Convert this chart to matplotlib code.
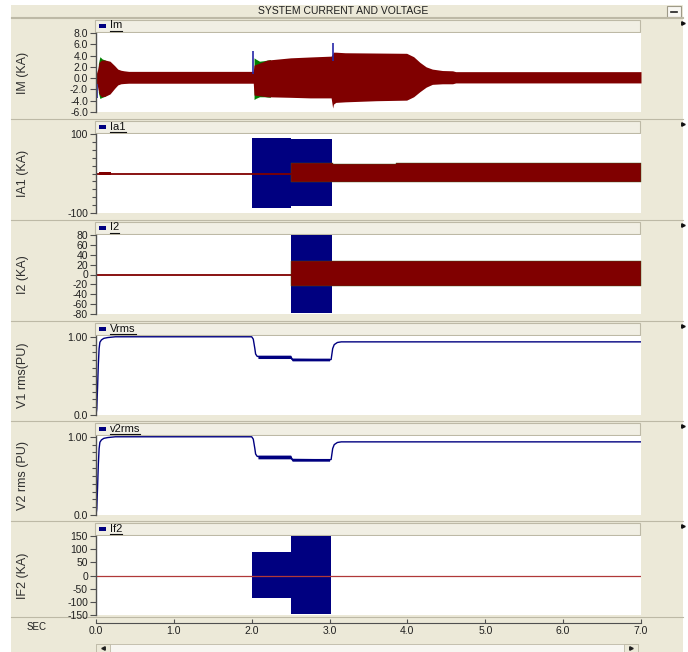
import matplotlib

matplotlib.use("Agg")
import matplotlib.pyplot as plt
import numpy as np
from matplotlib.patches import Rectangle

W, H = 688, 652

RED = "#800000"
BLUE = "#000080"
GREEN = "#008000"
BEIGE = "#ECE9D8"
HEAD = "#F1EFE4"
EDGE = "#BDB9A6"

# ---- Im (kA): envelope of the oscillating trace ----
im_t = [0.00, 0.02, 0.04, 0.07, 0.12, 0.18, 0.24, 0.28, 0.32, 0.36, 0.42,
        2.02, 2.03, 2.20, 2.50, 2.75, 3.02, 3.04, 3.05, 3.08, 3.20, 3.60, 3.99,
        4.08, 4.16, 4.24, 4.32, 4.45, 4.58, 4.62, 7.00]
im_hi = [0.6, 1.5, 2.8, 3.2, 3.2, 3.0, 2.2, 1.6, 1.4, 1.3, 1.2,
         1.2, 2.3, 3.2, 3.6, 3.75, 3.9, 4.3, 4.6, 4.6, 4.5, 4.45, 4.4,
         3.8, 2.8, 2.0, 1.6, 1.35, 1.3, 1.15, 1.15]
im_lo = [-0.6, -1.5, -2.8, -3.3, -3.2, -2.8, -1.8, -1.2, -1.0, -0.95, -0.9,
         -0.9, -3.0, -3.3, -3.4, -3.5, -3.5, -5.3, -4.6, -4.3, -4.2, -4.0, -3.9,
         -3.3, -2.4, -1.6, -1.1, -1.0, -1.0, -0.85, -0.85]
im_g1_t = [0.03, 0.05, 0.08, 0.12]
im_g1_hi = [2.5, 3.8, 3.4, 3.2]
im_g1_lo = [-2.5, -3.6, -3.4, -3.2]
im_g2_t = [2.03, 2.05, 2.10, 2.16, 2.24]
im_g2_hi = [3.6, 3.4, 3.0, 3.1, 3.3]
im_g2_lo = [-3.8, -3.6, -3.3, -3.3, -3.4]
im_spk_t = [0.01, 2.02, 3.04]
im_spk_hi = [-1.0, 4.8, 6.2]
im_spk_lo = [-3.5, 0.8, 3.0]

# ---- Ia1 (kA) ----
ia1_line_t = [0.0, 2.5]
ia1_line_v = [0.0, 0.0]
ia1_st_t = [0.04, 0.19]
ia1_st_hi = [3.0, 3.0]
ia1_st_lo = [-3.0, -3.0]
ia1_b_t = [2.0, 2.5, 2.5, 3.03]
ia1_b_hi = [90, 90, 87, 87]
ia1_b_lo = [-88, -88, -82, -82]
ia1_r_t = [2.5, 3.05, 3.05, 3.85, 3.85, 7.0]
ia1_r_hi = [26, 26, 25, 25, 26, 26]
ia1_r_lo = [-22, -22, -22, -22, -22, -22]

# ---- I2 (kA) ----
i2_line_t = [0.0, 2.5]
i2_line_v = [0.0, 0.0]
i2_b_t = [2.5, 3.03]
i2_b_hi = [80, 80]
i2_b_lo = [-77, -77]
i2_r_t = [2.5, 7.0]
i2_r_hi = [28, 28]
i2_r_lo = [-24, -24]

# ---- V1 rms / V2 rms (pu) ----
v1_t = [0.0, 0.01, 0.02, 0.03, 0.04, 0.05, 0.07, 0.10, 0.15, 0.25, 2.0, 2.02,
        2.03, 2.04, 2.05, 2.07, 2.10, 2.5, 2.52, 3.0, 3.02, 3.04, 3.06, 3.10,
        3.15, 7.0]
v1_v = [0.0, 0.08, 0.35, 0.65, 0.85, 0.93, 0.96, 0.98, 0.99, 1.0, 1.0, 0.97,
        0.91, 0.85, 0.78, 0.75, 0.745, 0.745, 0.71, 0.705, 0.71, 0.85, 0.90,
        0.927, 0.935, 0.935]
v1_band_t = [2.08, 2.5, 2.52, 3.0]
v1_band_hi = [0.765, 0.765, 0.727, 0.727]
v1_band_lo = [0.722, 0.722, 0.692, 0.692]

v2_t = [0.0, 0.01, 0.02, 0.03, 0.04, 0.05, 0.07, 0.10, 0.15, 0.25, 2.0, 2.02,
        2.03, 2.04, 2.05, 2.07, 2.10, 2.5, 2.52, 3.0, 3.02, 3.04, 3.06, 3.10,
        3.15, 7.0]
v2_v = [0.0, 0.08, 0.35, 0.65, 0.85, 0.93, 0.96, 0.98, 0.99, 1.0, 1.0, 0.97,
        0.91, 0.85, 0.78, 0.75, 0.745, 0.745, 0.71, 0.705, 0.71, 0.85, 0.90,
        0.927, 0.935, 0.935]
v2_band_t = [2.08, 2.5, 2.52, 3.0]
v2_band_hi = [0.766, 0.766, 0.723, 0.723]
v2_band_lo = [0.718, 0.718, 0.688, 0.688]

# ---- If2 (kA) ----
if2_line_t = [0.0, 7.0]
if2_line_v = [0.0, 0.0]
if2_b_t = [2.0, 2.5, 2.5, 3.02]
if2_b_hi = [90, 90, 150, 150]
if2_b_lo = [-86, -86, -145, -145]

x_ticks = [0.0, 1.0, 2.0, 3.0, 4.0, 5.0, 6.0, 7.0]
x_labels = ["0.0", "1.0", "2.0", "3.0", "4.0", "5.0", "6.0", "7.0"]

plt.rcParams["font.family"] = ["Liberation Sans", "DejaVu Sans"]

fig = plt.figure(figsize=(W / 100, H / 100), dpi=100)
fig.patch.set_facecolor("white")


def rect(x0, y0, x1, y1):
    return [x0 / W, 1 - y1 / H, (x1 - x0) / W, (y1 - y0) / H]


bg = fig.add_axes([0, 0, 1, 1], zorder=0)
bg.set_xlim(0, W)
bg.set_ylim(H, 0)
bg.axis("off")

# window frame
bg.add_patch(Rectangle((11, 5), 672, H - 5, facecolor=BEIGE, edgecolor="none"))
bg.plot([11, 683], [17, 17], color=EDGE, lw=0.8)
bg.text(343, 11.5, "SYSTEM CURRENT AND VOLTAGE", fontsize=7.5, ha="center",
        va="center", color="#202020")
bg.add_patch(Rectangle((667, 6), 14, 11, facecolor="#F8F7F2", edgecolor="#9E9A88", lw=0.8))
bg.plot([671, 677], [12, 12], color="#202020", lw=1.2)

# scroll bar at the bottom
bg.add_patch(Rectangle((96, 644), 542, 8, facecolor="#F7F6F1", edgecolor=EDGE, lw=0.6))
bg.add_patch(Rectangle((96, 644), 14, 8, facecolor=BEIGE, edgecolor=EDGE, lw=0.6))
bg.add_patch(Rectangle((624, 644), 14, 8, facecolor=BEIGE, edgecolor=EDGE, lw=0.6))
bg.plot([103], [648], marker="<", ms=2.5, color="#202020")
bg.plot([631], [648], marker=">", ms=2.5, color="#202020")

TOPS = [33, 134, 235, 336, 436, 536]
HGT = 79


def panel(i, ylim, ticks, labels, minor, ylabel, legend):
    top = TOPS[i]
    # separator and legend header
    bg.plot([11, 683], [top - 15, top - 15], color=EDGE, lw=0.8)
    bg.add_patch(Rectangle((95, top - 13), 545, 12, facecolor=HEAD,
                           edgecolor=EDGE, lw=0.8))
    bg.add_patch(Rectangle((99, top - 9), 7, 3.5, facecolor=BLUE, edgecolor="none"))
    txt = bg.text(110, top - 7.5, legend, fontsize=8, ha="left", va="center",
                  color="#101010")
    bg.plot([683], [top - 10], marker=">", ms=2.5, color="#101010")
    bg.text(23, top + HGT / 2, ylabel, fontsize=9, rotation=90, ha="center",
            va="center", color="#303030")

    ax = fig.add_axes(rect(96, top, 641, top + HGT), zorder=2)
    ax.set_facecolor("white")
    ax.set_xlim(0, 7)
    ax.set_ylim(*ylim)
    ax.set_xticks([])
    ax.set_yticks(ticks)
    ax.set_yticklabels(labels)
    if minor is not None:
        ax.set_yticks(minor, minor=True)
    for s in ["top", "right", "bottom"]:
        ax.spines[s].set_visible(False)
    ax.spines["left"].set_color("#505050")
    ax.spines["left"].set_linewidth(1.0)
    ax.tick_params(axis="y", which="major", direction="out", length=4.3,
                   width=0.8, color="#505050", labelsize=7.5, pad=1.5,
                   labelcolor="#202020")
    ax.tick_params(axis="y", which="minor", direction="out", length=2.8,
                   width=0.8, color="#505050")
    return ax, txt


legend_texts = []

ax1, t = panel(0, (-6, 8), [8, 6, 4, 2, 0, -2, -4, -6],
               ["8.0", "6.0", "4.0", "2.0", "0.0", "-2.0", "-4.0", "-6.0"],
               None, "IM (KA)", "Im")
legend_texts.append(t)
ax1.vlines(im_spk_t, im_spk_lo, im_spk_hi, color="#2828a8", lw=1.2)
ax1.fill_between(im_g1_t, im_g1_lo, im_g1_hi, color=GREEN, lw=0)
ax1.fill_between(im_g2_t, im_g2_lo, im_g2_hi, color=GREEN, lw=0)
ax1.fill_between(im_t, im_lo, im_hi, color=RED, lw=0)

ax2, t = panel(1, (-100, 100), [100, -100], ["100", "-100"],
               np.arange(-80, 81, 20), "IA1 (KA)", "Ia1")
legend_texts.append(t)
ax2.fill_between(ia1_b_t, ia1_b_lo, ia1_b_hi, color=BLUE, lw=0)
ax2.plot(ia1_line_t, ia1_line_v, color=RED, lw=1.3)
ax2.fill_between(ia1_st_t, ia1_st_lo, ia1_st_hi, color=RED, lw=0)
ax2.fill_between(ia1_r_t, ia1_r_lo, ia1_r_hi, facecolor=RED, edgecolor="#3a5a20", lw=0.3)

ax3, t = panel(2, (-80, 80), list(range(80, -81, -20)),
               [str(v) for v in range(80, -81, -20)], None, "I2 (KA)", "I2")
legend_texts.append(t)
ax3.fill_between(i2_b_t, i2_b_lo, i2_b_hi, color=BLUE, lw=0)
ax3.plot(i2_line_t, i2_line_v, color=RED, lw=1.3)
ax3.fill_between(i2_r_t, i2_r_lo, i2_r_hi, facecolor=RED, edgecolor="#3a5a20", lw=0.3)

ax4, t = panel(3, (0, 1.01), [1.0, 0.0], ["1.00", "0.0"],
               np.arange(0.1, 0.95, 0.1), "V1 rms(PU)", "Vrms")
legend_texts.append(t)
ax4.plot(v1_t, v1_v, color=BLUE, lw=1.0)
ax4.fill_between(v1_band_t, v1_band_lo, v1_band_hi, color=BLUE, lw=0)

ax5, t = panel(4, (0, 1.01), [1.0, 0.0], ["1.00", "0.0"],
               np.arange(0.1, 0.95, 0.1), "V2 rms (PU)", "v2rms")
legend_texts.append(t)
ax5.plot(v2_t, v2_v, color=BLUE, lw=1.0)
ax5.fill_between(v2_band_t, v2_band_lo, v2_band_hi, color=BLUE, lw=0)

ax6, t = panel(5, (-150, 150), list(range(150, -151, -50)),
               [str(v) for v in range(150, -151, -50)], None, "IF2 (KA)", "If2")
legend_texts.append(t)
ax6.fill_between(if2_b_t, if2_b_lo, if2_b_hi, color=BLUE, lw=0)
ax6.plot(if2_line_t, if2_line_v, color="#B03838", lw=0.9)

# time axis
bg.plot([11, 683], [617, 617], color=EDGE, lw=0.8)
axx = fig.add_axes(rect(96, 614, 641, 623), zorder=2)
axx.set_facecolor("none")
axx.set_xlim(0, 7)
axx.set_yticks([])
for s in ["top", "right", "left"]:
    axx.spines[s].set_visible(False)
axx.spines["bottom"].set_color("#505050")
axx.set_xticks(x_ticks)
axx.set_xticklabels(x_labels)
axx.tick_params(axis="x", direction="in", length=3, width=0.8, color="#505050",
                labelsize=7.5, pad=2, labelcolor="#202020")
bg.text(37, 627, "SEC", fontsize=7, ha="center", va="center", color="#202020")

# underline the legend labels
fig.canvas.draw()
renderer = fig.canvas.get_renderer()
for txt in legend_texts:
    bb = txt.get_window_extent(renderer)
    yy = H - bb.y0 + 0.5
    bg.plot([bb.x0, bb.x1], [yy, yy], color="#101010", lw=0.8)

fig.savefig("out.png", dpi=100)
